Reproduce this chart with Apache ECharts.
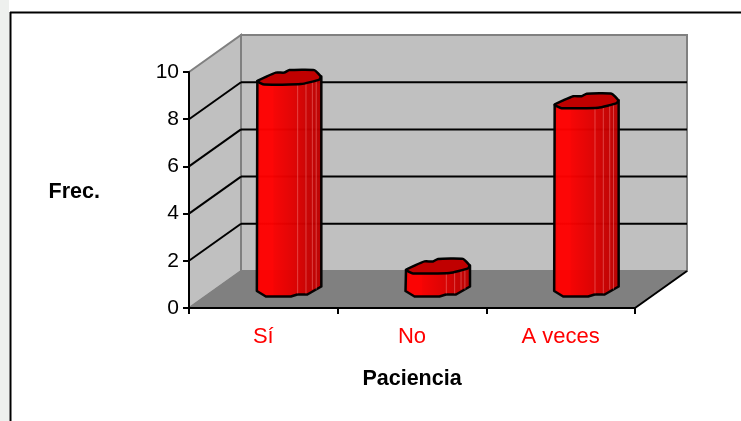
<!DOCTYPE html>
<html>
<head>
<meta charset="utf-8">
<style>html,body{margin:0;padding:0;background:#fff;overflow:hidden}#c{width:741px;height:421px}</style>
<script src="https://cdn.jsdelivr.net/npm/echarts@6/dist/echarts.min.js"></script>
</head>
<body>
<div id="c"></div>
<script>
var categories = ['Sí', 'No', 'A veces'];
var values = [9, 1, 8];
var yTicks = [0, 2, 4, 6, 8, 10];
var xTitle = 'Paciencia';
var yTitle = 'Frec.';

var DX = 52, DY = -37;
var topShape = [[-32,3.5],[-23,-1],[-13.5,-5],[-5,-5],[0,-7.5],[25,-7.5],[31.5,-1],[30,2],[11.5,6.5],[-25,7]];
var baseShape = [[-32.5,1.5],[-23.5,7],[1.5,7],[8,5],[18,5],[32,-3]];
var stripes = [0.63, 0.76, 0.86, 0.92];

var chart = echarts.init(document.getElementById('c'), null, {renderer:'canvas'});

function shift(p, k){ return [p[0] + DX*k, p[1] + DY*k]; }

function renderWalls(params, api){
  if (params.dataIndex !== 0) return {type:'group', children:[]};
  var r = params.coordSys;
  var l = r.x, t = r.y, w = r.width, h = r.height, b = t + h, rr = l + w;
  var ch = [];
  ch.push({type:'polygon', shape:{points:[[l+DX,t+DY],[rr+DX,t+DY],[rr+DX,b+DY],[l+DX,b+DY]]},
    style:{fill:'#c0c0c0', stroke:'#808080', lineWidth:2}});
  ch.push({type:'polygon', shape:{points:[[l,t],[l+DX,t+DY],[l+DX,b+DY],[l,b]]},
    style:{fill:'#c0c0c0', stroke:'#808080', lineWidth:2}});
  ch.push({type:'polygon', shape:{points:[[l,b],[l+DX,b+DY],[rr+DX,b+DY],[rr,b]]},
    style:{fill:'#808080', stroke:'#808080', lineWidth:1}});
  ch.push({type:'line', shape:{x1:rr, y1:b, x2:rr+DX, y2:b+DY}, style:{stroke:'#000', lineWidth:2}});
  yTicks.forEach(function(v){
    if (v === 0 || v === 10) return;
    var y = api.coord([0, v])[1];
    ch.push({type:'line', shape:{x1:l, y1:y, x2:l+DX, y2:y+DY}, style:{stroke:'#000', lineWidth:2}});
    ch.push({type:'line', shape:{x1:l+DX, y1:y+DY, x2:rr+DX, y2:y+DY}, style:{stroke:'#000', lineWidth:2}});
  });
  return {type:'group', children:ch};
}

function renderBar(params, api){
  var p = api.coord([api.value(0), api.value(1)]);
  var p0 = api.coord([api.value(0), 0]);
  var top = shift(p, 0.5), base = shift(p0, 0.5);
  top[1] += 0.5;
  var T = topShape.map(function(q){ return [q[0]+top[0], q[1]+top[1]]; });
  var B = baseShape.map(function(q){ return [q[0]+base[0], q[1]+base[1]]; });
  var left = top[0]-32, right = top[0]+32;
  var body = [[left, top[1]+3.5]].concat(B).concat([[right, top[1]-1]]);
  var grad = {type:'linear', x:left, y:0, x2:right, y2:0, global:true, colorStops:[
    {offset:0, color:'#ee0000'},{offset:0.05, color:'#ff0000'},{offset:0.24, color:'#ff0000'},
    {offset:0.26, color:'#f80000'},{offset:0.55, color:'#e20000'},{offset:0.72, color:'#d20000'},
    {offset:0.75, color:'#cc0000'},{offset:1, color:'#bb0000'}]};
  var ch = [];
  ch.push({type:'polygon', shape:{points:body}, style:{fill:grad, stroke:'#000', lineWidth:2.5, lineJoin:'round', opacity:0.97}});
  stripes.forEach(function(s){
    var x = left + 64*s;
    ch.push({type:'line', shape:{x1:x, y1:top[1]+4, x2:x, y2:base[1]+(s>0.8?0:4)},
      style:{stroke:'rgba(255,160,160,0.4)', lineWidth:1}});
  });
  ch.push({type:'polygon', shape:{points:T, smooth:0.15}, style:{fill:'#c00000', stroke:'#000', lineWidth:2.5, lineJoin:'round'}});
  return {type:'group', children:ch};
}

var option = {
  animation:false,
  backgroundColor:'#ffffff',
  textStyle:{fontFamily:'"Liberation Sans", Arial, sans-serif'},
  graphic:[
    {type:'rect', silent:true, z:-1, shape:{x:0,y:0,width:9,height:421}, style:{fill:'#eef0ee'}},
    {type:'line', silent:true, shape:{x1:10,y1:12.5,x2:741,y2:12.5}, style:{stroke:'#000', lineWidth:2}},
    {type:'line', silent:true, shape:{x1:10.5,y1:12,x2:10.5,y2:421}, style:{stroke:'#000', lineWidth:2}}
  ],
  grid:{left:189, top:72, width:446, height:236, containLabel:false},
  xAxis:{
    type:'category', data:categories, boundaryGap:true,
    name:xTitle, nameLocation:'middle', nameGap:60,
    nameTextStyle:{color:'#000', fontSize:21.5, fontWeight:'bold', fontFamily:'"Liberation Sans"'},
    axisLine:{show:true, lineStyle:{color:'#000', width:2}},
    axisTick:{show:true, length:6, alignWithLabel:false, lineStyle:{color:'#000', width:2}},
    axisLabel:{color:'#ff0000', fontSize:22, margin:18, fontFamily:'"Liberation Sans"'},
    z:5
  },
  yAxis:{
    type:'value', min:0, max:10, interval:2,
    name:yTitle, nameLocation:'middle', nameGap:89, nameRotate:0,
    nameTextStyle:{color:'#000', fontSize:21.5, fontWeight:'bold', fontFamily:'"Liberation Sans"', verticalAlign:'top', lineHeight:4},
    axisLine:{show:true, lineStyle:{color:'#000', width:2}},
    axisTick:{show:true, length:6, lineStyle:{color:'#000', width:2}},
    axisLabel:{color:'#000', fontSize:21, margin:10, fontFamily:'"Liberation Sans"'},
    splitLine:{show:false},
    z:5
  },
  series:[
    {type:'custom', coordinateSystem:'cartesian2d', renderItem:renderWalls, data:[[0,0]], z:1, silent:true, clip:false},
    {type:'custom', coordinateSystem:'cartesian2d', renderItem:renderBar,
      encode:{x:0,y:1}, data:values.map(function(v,i){ return [i,v]; }), z:2, silent:true, clip:false}
  ]
};
chart.setOption(option);
</script>
</body>
</html>
